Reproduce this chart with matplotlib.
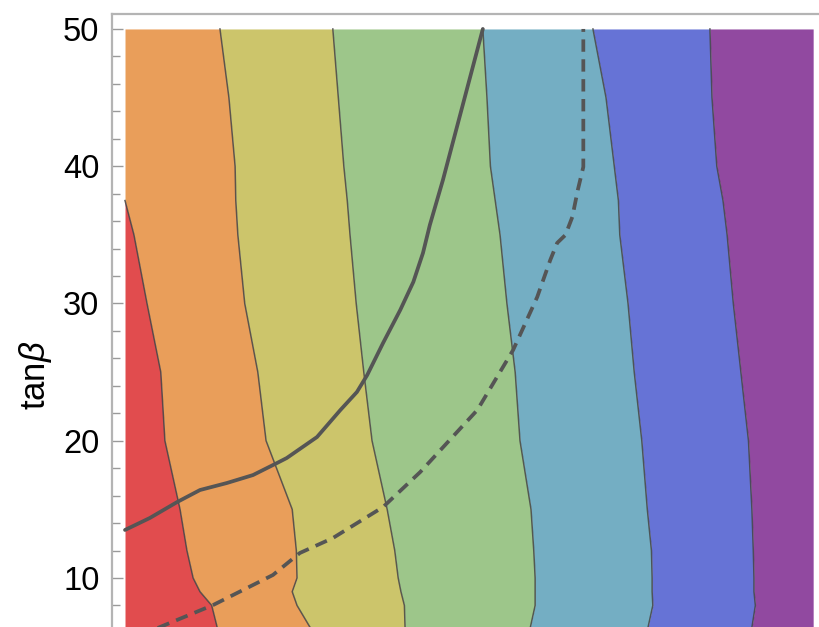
import numpy as np
import matplotlib
matplotlib.use("Agg")
import matplotlib.pyplot as plt

plt.rcParams["font.family"] = ["Liberation Sans", "DejaVu Sans"]
plt.rcParams["mathtext.fontset"] = "custom"
plt.rcParams["mathtext.rm"] = "Liberation Sans"
plt.rcParams["mathtext.it"] = "Liberation Sans:italic"

# tan(beta) levels where the region boundaries are sampled
tanb = [6.0, 6.4, 8, 9, 10, 12, 15, 20, 25, 30, 35, 37.5, 40, 45, 50]

# x position (0-100 scale) of each region boundary at the tanb levels
edge_1 = [13.5, 13.4, 12.6, 10.9, 9.9, 9.0, 8.0, 5.8, 5.2, 3.2, 1.3, 0.0, 0.0, 0.0, 0.0]
edge_2 = [27.6, 26.9, 25.0, 24.3, 25.0, 24.9, 24.3, 20.5, 19.3, 17.4, 16.4, 16.1, 16.0, 15.1, 13.8]
edge_3 = [40.3, 40.7, 40.6, 40.1, 39.7, 39.2, 38.1, 35.9, 34.7, 33.6, 32.7, 32.3, 31.8, 31.0, 30.2]
edge_4 = [58.0, 58.9, 59.6, 59.6, 59.6, 59.4, 59.0, 57.4, 56.7, 55.5, 54.5, 53.8, 53.1, 52.6, 52.0]
edge_5 = [75.0, 76.0, 76.7, 76.6, 76.6, 76.5, 75.9, 75.1, 74.0, 73.1, 71.9, 71.7, 71.1, 69.9, 68.0]
edge_6 = [90.2, 91.1, 91.6, 91.4, 91.4, 91.3, 91.1, 90.6, 89.5, 88.4, 87.5, 86.9, 86.0, 85.3, 85.0]
x_min, x_max = 0.0, 100.0

region_colors = ["#E14C4E", "#E99E5A", "#CCC56B", "#9DC68A", "#74AEC3", "#6673D6", "#9149A0"]

# solid constraint curve
solid_x = [0.0, 3.6, 7.6, 10.9, 14.8, 18.6, 22.1, 23.5, 27.9, 31.3, 33.7, 35.2, 37.5, 40.0,
           41.9, 43.3, 44.3, 46.2, 52.0]
solid_tanb = [13.50, 14.37, 15.54, 16.41, 16.92, 17.50, 18.38, 18.74, 20.27, 22.24, 23.55,
              24.79, 27.12, 29.53, 31.57, 33.68, 35.72, 39.00, 50.0]

# dashed constraint curve
dashed_x = [3.1, 5.1, 12.8, 21.5, 25.4, 30.2, 37.5, 42.9, 51.2, 56.4, 59.9, 61.8, 62.8,
            64.0, 65.0, 65.8, 66.6, 66.6]
dashed_tanb = [6.0, 6.43, 8.03, 10.22, 11.82, 12.91, 15.17, 17.72, 22.24, 26.61, 30.47,
               33.17, 34.41, 34.99, 36.30, 38.27, 39.95, 50.0]

fig = plt.figure(figsize=(8.2, 6.27), dpi=100)
ax = fig.add_axes([112 / 820, 0, (840 - 112) / 820, (627 - 14) / 627])

edges = [[x_min] * len(tanb), edge_1, edge_2, edge_3, edge_4, edge_5, edge_6, [x_max] * len(tanb)]
for i, col in enumerate(region_colors):
    ax.fill_betweenx(tanb, edges[i], edges[i + 1], color=col, lw=0, zorder=1)

# boundary lines between the regions
for e in edges[1:-1]:
    e = np.array(e)
    t = np.array(tanb)
    keep = e > x_min
    if not keep.all():
        # include the point where the boundary meets the left edge
        last = np.argmax(~keep)
        keep[last] = True
    ax.plot(e[keep], t[keep], color="#454545", lw=1.1, alpha=0.85, zorder=2)

ax.plot(solid_x, solid_tanb, color="#555555", lw=2.7, solid_capstyle="round", zorder=3)
ax.plot(dashed_x, dashed_tanb, color="#555555", lw=2.7, linestyle=(0, (3.3, 2.0)), zorder=3)

ax.set_xlim(-1.89, 103.9)
ax.set_ylim(6.43, 51.09)

ax.set_yticks([10, 20, 30, 40, 50])
ax.set_yticks(np.arange(8, 51, 2), minor=True)
ax.set_xticks([])
ax.tick_params(axis="y", which="both", direction="in", color="#9a9a9a", width=1.0,
               labelsize=23.5, pad=9)
ax.tick_params(axis="y", which="major", length=8)
ax.tick_params(axis="y", which="minor", length=6)

for side in ["left", "top"]:
    ax.spines[side].set_color("#b4b4b4")
    ax.spines[side].set_linewidth(1.6)
for side in ["right", "bottom"]:
    ax.spines[side].set_visible(False)

fig.text(35 / 820, 1 - 375 / 627, r"tan$\beta$", rotation=90, ha="center", va="center",
         fontsize=25)

fig.savefig("out.png", dpi=100)
